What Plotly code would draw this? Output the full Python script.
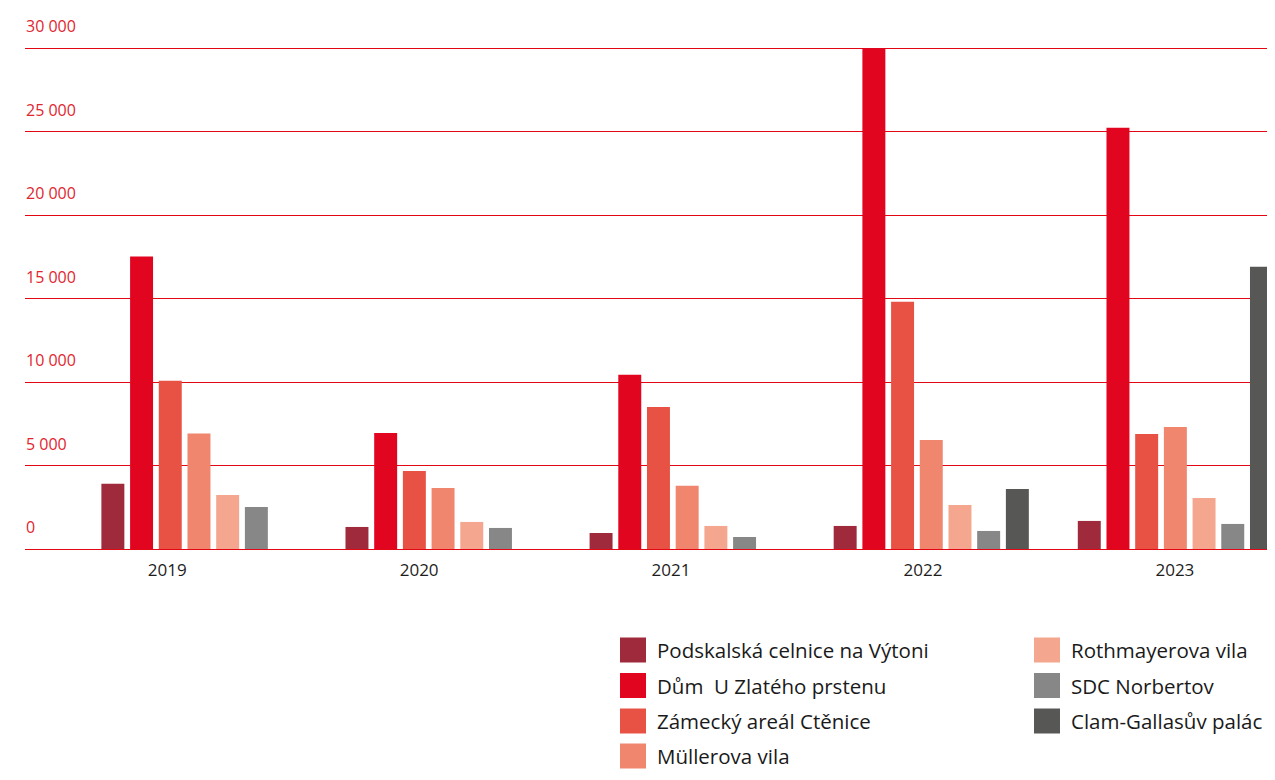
import plotly.graph_objects as go

# data
years = ["2019", "2020", "2021", "2022", "2023"]
names = ["Podskalská celnice na Výtoni", "Dům\u00a0 U Zlatého prstenu", "Zámecký areál Ctěnice",
         "Müllerova vila", "Rothmayerova vila", "SDC Norbertov", "Clam-Gallasův palác"]
colors = ["#9E2A3B", "#E20520", "#E85244", "#F0866E", "#F4A68E", "#878787", "#575756"]
y_ticks = [0, 5000, 10000, 15000, 20000, 25000, 30000]

podskalska = [3900, 1320, 960, 1380, 1680]
dum = [17520, 6950, 10430, 30000, 25230]
zamecky = [10070, 4670, 8510, 14800, 6890]
mullerova = [6910, 3660, 3780, 6530, 7310]
rothmayerova = [3240, 1620, 1380, 2640, 3060]
sdc = [2520, 1260, 720, 1080, 1500]
clam = [None, None, None, 3600, 16900]
series = [podskalska, dum, zamecky, mullerova, rothmayerova, sdc, clam]

# the page body has an 8px margin, keep the figure inside the window
OFF = 8
W, H = 1275 - 2 * OFF, 780 - 2 * OFF
L, R, T = 25 - OFF, 0, 46 - OFF
B = H - (549 - OFF)
FONT = "Open Sans"
idx = list(range(len(years)))

# 0 sits at y=549 and 30 000 at y=48; leave 2px above so the top gridline shows
y_top = 30000 * (H - T - B) / (549 - 48)

fig = go.Figure()
for name, color, vals in zip(names, colors, series):
    fig.add_trace(go.Bar(x=idx, y=vals, name=name, marker_color=color,
                         marker_line_width=0, showlegend=False))


def px_x(px):
    return (px - OFF - L) / (W - L - R)


def px_y(py):
    return (H - B - (py - OFF)) / (H - T - B)


# y labels sit above their gridlines, flush left
for v in y_ticks:
    fig.add_annotation(xref="paper", yref="y", x=px_x(24), y=v, yshift=22,
                       text=f"{v:,}".replace(",", " "), showarrow=False,
                       xanchor="left", yanchor="middle",
                       font=dict(family=FONT, size=16, color="#E1262F"))

# legend drawn by hand: two columns, big swatches
legend_cols = [(620, 657), (1034, 1071)]
row_y = [650, 685.5, 721, 756]
for i, (name, color) in enumerate(zip(names, colors)):
    col = 0 if i < 4 else 1
    row = i if i < 4 else i - 4
    sx, tx = legend_cols[col]
    cy = row_y[row]
    fig.add_shape(type="rect", xref="paper", yref="paper",
                  x0=px_x(sx), x1=px_x(sx + 26), y0=px_y(cy + 12.5), y1=px_y(cy - 12.5),
                  fillcolor=color, line_width=0)
    fig.add_annotation(xref="paper", yref="paper", x=px_x(tx - 2), y=px_y(cy),
                       text=name, showarrow=False, xanchor="left", yanchor="middle",
                       font=dict(family=FONT, size=20.5, color="#1a1a1a"))

# year labels in the original drift left of the bar groups
year_ticks = [i * 1.032 - 0.13 for i in idx]

fig.update_layout(
    width=W, height=H,
    margin=dict(l=L, r=R, t=T, b=B),
    plot_bgcolor="white", paper_bgcolor="white",
    barmode="group", bargap=0.177, bargroupgap=0.2,
    font=dict(family=FONT),
    xaxis=dict(range=[-0.7127, 4.3754], tickvals=year_ticks, ticktext=years,
               showgrid=False, zeroline=False, ticks="", ticklabelstandoff=9,
               tickfont=dict(family=FONT, size=17, color="#1d1d1b")),
    yaxis=dict(range=[0, y_top], tickvals=y_ticks, showticklabels=False,
               showgrid=True, gridcolor="#E30613", gridwidth=1,
               zeroline=True, zerolinecolor="#E30613", zerolinewidth=1),
)

fig.write_html("out.html")
